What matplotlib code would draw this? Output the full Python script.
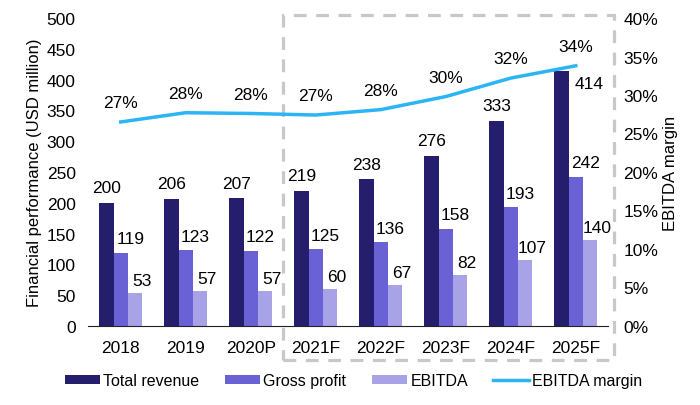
import matplotlib
matplotlib.use('Agg')
from matplotlib import pyplot as plt
from matplotlib.patches import Rectangle
import numpy as np

plt.rcParams['font.family'] = ['Liberation Sans', 'DejaVu Sans']
plt.rcParams['font.size'] = 12

years = ['2018', '2019', '2020P', '2021F', '2022F', '2023F', '2024F', '2025F']
revenue = [200, 206, 207, 219, 238, 276, 333, 414]
gross = [119, 123, 122, 125, 136, 158, 193, 242]
ebitda = [53, 57, 57, 60, 67, 82, 107, 140]
margin = [26.5, 27.7, 27.6, 27.4, 28.1, 29.8, 32.2, 33.8]
margin_labels = ['27%', '28%', '28%', '27%', '28%', '30%', '32%', '34%']

c_rev = '#241E6C'
c_gross = '#6A62D4'
c_ebitda = '#A8A3E6'
c_line = '#2BB5F5'

fig = plt.figure(figsize=(7, 4.06), dpi=100)
ax = fig.add_axes([0.126, 0.195, 0.743, 0.758])
ax2 = ax.twinx()

x = np.arange(len(years))
w = 0.22
ax.bar(x - w, revenue, w, color=c_rev, label='Total revenue')
ax.bar(x, gross, w, color=c_gross, label='Gross profit')
ax.bar(x + w, ebitda, w, color=c_ebitda, label='EBITDA')

fs = 12.5
for i in range(len(years)):
    if i == len(years) - 1:
        ax.annotate(str(revenue[i]), (x[i] - w, revenue[i]), xytext=(20, -9),
                    textcoords='offset points', ha='center', va='center', fontsize=fs)
    else:
        ax.annotate(str(revenue[i]), (x[i] - w, revenue[i]), xytext=(0, 11),
                    textcoords='offset points', ha='center', va='center', fontsize=fs)
    ax.annotate(str(gross[i]), (x[i], gross[i]), xytext=(7, 10),
                textcoords='offset points', ha='center', va='center', fontsize=fs)
    ax.annotate(str(ebitda[i]), (x[i] + w, ebitda[i]), xytext=(5, 9),
                textcoords='offset points', ha='center', va='center', fontsize=fs)

ax2.plot(x, margin, color=c_line, lw=2.5, label='EBITDA margin')
for i in range(len(years)):
    ax2.annotate(margin_labels[i], (x[i], margin[i]), xytext=(0, 14),
                 textcoords='offset points', ha='center', va='center', fontsize=fs)

ax.set_xlim(-0.5, 7.5)
ax.set_ylim(0, 500)
ax.set_yticks(range(0, 501, 50))
ax2.set_ylim(0, 40)
ax2.set_yticks(range(0, 41, 5))
ax2.set_yticklabels([f'{v}%' for v in range(0, 41, 5)])
ax.set_xticks(x)
ax.set_xticklabels(years)
ax.set_ylabel('Financial performance (USD million)', fontsize=12, labelpad=3)
ax2.set_ylabel('EBITDA margin', fontsize=12, labelpad=3)

for a in (ax, ax2):
    for s in ['top', 'right', 'left']:
        a.spines[s].set_visible(False)
    a.tick_params(length=0, labelsize=fs)
ax2.spines['bottom'].set_visible(False)
ax.spines['bottom'].set_color('#222222')
ax.tick_params(axis='x', pad=10)
ax.tick_params(axis='y', pad=9)
ax2.tick_params(axis='y', pad=11)

# forecast box
box = Rectangle((2.5, -55), 5.09, 560, fill=False, ls=(0, (4, 3)), lw=2.3,
                edgecolor='#C8C8C8', clip_on=False, zorder=0)
ax.add_patch(box)

h1, l1 = ax.get_legend_handles_labels()
h2, l2 = ax2.get_legend_handles_labels()
fig.legend(h1 + h2, l1 + l2, loc='center', bbox_to_anchor=(0.505, 0.06), ncol=4,
           frameon=False, handlelength=2.2, handleheight=0.5, columnspacing=1.6,
           handletextpad=0.2, fontsize=11.5)

plt.savefig('out.png', dpi=100)
